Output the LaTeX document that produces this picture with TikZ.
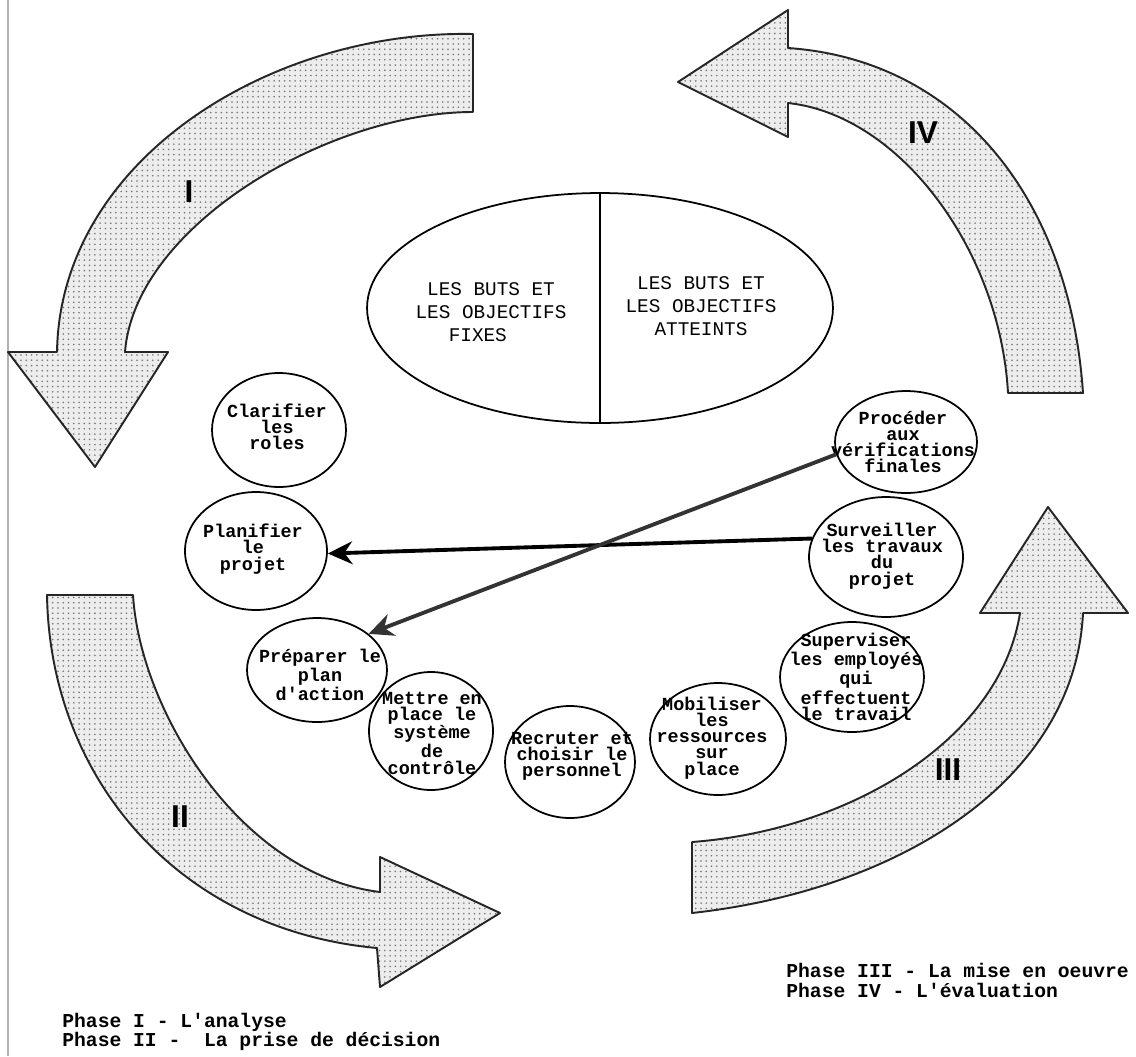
\documentclass[tikz,border=0pt]{standalone}
\usepackage{fontspec}
\setmainfont{Liberation Serif}
\setmonofont{Liberation Mono}
\newfontfamily\lblfont{Liberation Sans}
\usetikzlibrary{shapes.geometric,arrows.meta,patterns}
\tikzset{
  bigarrow/.style={draw=black!85, line width=1.1pt, line join=round,
    preaction={fill=black!7}, pattern=dots, pattern color=black!55},
  circ/.style={ellipse, draw, line width=1pt, inner sep=0pt},
  ctext/.style={font=\fontsize{10.5}{9.2}\selectfont\ttfamily\bfseries, align=center, inner sep=0pt},
  gtext/.style={font=\fontsize{11}{13}\selectfont\ttfamily, align=center, inner sep=0pt},
  phase/.style={font=\fontsize{18}{18}\selectfont\lblfont\bfseries, inner sep=0pt},
  legend/.style={font=\fontsize{11.2}{13}\selectfont\ttfamily\bfseries, inner sep=0pt, anchor=west},
  conn/.style={line width=2.2pt, -{Stealth[length=14pt,width=13pt]}},
}
\begin{document}
\begin{tikzpicture}[x=0.02cm,y=-0.02cm]
\fill[white] (0,0) rectangle (1136,1056);
\useasboundingbox (0,0) rectangle (1136,1056);
\draw[black!30, line width=1pt] (8,0) -- (8,1056);

% Arrow I
\path[bigarrow] (473,34) .. controls (270,30) and (60,160) .. (57,352)
  -- (8,352) -- (95,467) -- (168,352) -- (125,352)
  .. controls (135,225) and (330,112) .. (473,112) -- cycle;
% Arrow IV
\path[bigarrow] (1008,393) -- (1083,393) .. controls (1070,200) and (960,60) .. (788,48)
  -- (788,10) -- (678,82) -- (788,137) -- (788,103)
  .. controls (900,115) and (1000,250) .. (1008,393) -- cycle;
% Arrow II
\path[bigarrow] (47,595) -- (133,595) .. controls (140,710) and (240,875) .. (380,892)
  -- (380,857) -- (500,913) -- (380,987) -- (377,948)
  .. controls (180,930) and (50,780) .. (47,595) -- cycle;
% Arrow III
\path[bigarrow] (692,842) .. controls (850,830) and (1000,740) .. (1020,613)
  -- (980,613) -- (1048,507) -- (1128,613) -- (1083,613)
  .. controls (1075,780) and (900,890) .. (692,913) -- cycle;

\node[phase] (pI) at (189,192) {I};
\node[phase] (pII) at (180,817) {II};
\node[phase] (pIII) at (948,770) {III};
\node[phase] (pIV) at (923,133) {IV};

% central ellipse
\node[ellipse, draw, line width=1pt, inner sep=0pt, minimum width=9.32cm, minimum height=4.6cm] (goals) at (600,308) {};
\draw[line width=1pt] (goals.north) -- (goals.south);
\node[gtext] (gl) at (491,312) {LES BUTS ET\\LES OBJECTIFS\\FIXES\hspace*{15pt}};
\node[gtext] (gr) at (701,306) {LES BUTS ET\\LES OBJECTIFS\\ATTEINTS};

% circles
\node[circ, minimum width=2.68cm, minimum height=2.28cm] (c1) at (279,430) {};
\node[circ, minimum width=2.84cm, minimum height=2.36cm] (c2) at (256,551) {};
\node[circ, minimum width=2.80cm, minimum height=2.08cm] (c3) at (317,670) {};
\node[circ, minimum width=2.48cm, minimum height=2.36cm] (c4) at (431,731) {};
\node[circ, minimum width=2.60cm, minimum height=2.24cm] (c5) at (570,762) {};
\node[circ, minimum width=2.72cm, minimum height=2.24cm] (c6) at (718,739) {};
\node[circ, minimum width=2.88cm, minimum height=2.20cm] (c7) at (852,677) {};
\node[circ, minimum width=3.08cm, minimum height=2.40cm] (c8) at (886,557) {};
\node[circ, minimum width=2.84cm, minimum height=2.04cm] (c9) at (906,442) {};

\node[ctext] (t1) at (277,427) {Clarifier\\les\\roles};
\node[ctext] (t2) at (253,549) {Planifier\\le\\projet};
\node[ctext] (t3) at (320,675) {Préparer le\\plan\\d'action};
\node[ctext] (t4) at (432,733) {Mettre en\\place le\\système\\de\\contrôle};
\node[ctext] (t5) at (572,756) {Recruter et\\choisir le\\personnel};
\node[ctext] (t6) at (712,738) {Mobiliser\\les\\ressources\\sur\\place};
\node[ctext] (t7) at (856,677) {Superviser\\les employés\\qui\\effectuent\\le travail};
\node[ctext] (t8) at (882,556) {Surveiller\\les travaux\\du\\projet};
\node[ctext] (t9) at (903,442) {Procéder\\aux\\vérifications\\finales};

% connectors
\draw[conn] (c8.166) -- (c2.358);
\draw[conn, black!80] (c9.190) -- (c3.35);

% legend
\node[legend] (l1) at (62,1022) {Phase I - L'analyse};
\node[legend] (l2) at (62,1041) {Phase II -\ \ La prise de décision};
\node[legend] (l3) at (786,970) {Phase III - La mise en oeuvre};
\node[legend] (l4) at (786,990) {Phase IV - L'évaluation};
\end{tikzpicture}
\end{document}
